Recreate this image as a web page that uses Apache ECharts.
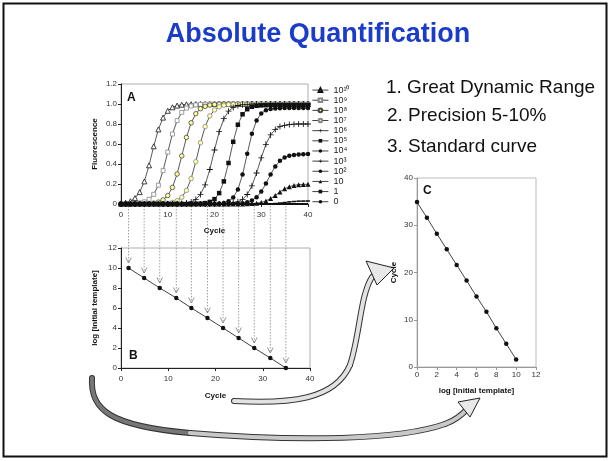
<!DOCTYPE html>
<html><head><meta charset="utf-8">
<script src="https://cdn.jsdelivr.net/npm/echarts@6/dist/echarts.min.js"></script>
<style>html,body{margin:0;padding:0;background:#fff}#c{width:610px;height:461px}</style>
</head><body><div id="c"></div>
<script>
// ---------- data ----------
const cycles = [0,1,2,3,4,5,6,7,8,9,10,11,12,13,14,15,16,17,18,19,20,21,22,23,24,25,26,27,28,29,30,31,32,33,34,35,36,37,38,39,40];
const seriesNames = ['10\u00b9\u2070','10\u2079','10\u2078','10\u2077','10\u2076','10\u2075','10\u2074','10\u00b3','10\u00b2','10','1','0'];
const fl1e10 = [0.006,0.013,0.028,0.059,0.119,0.226,0.387,0.577,0.746,0.864,
  0.932,0.967,0.984,0.993,0.997,0.998,0.999,1,1,1,
  1,1,1,1,1,1,1,1,1,1,
  1,1,1,1,1,1,1,1,1,1,
  1];
const fl1e9 = [0.001,0.001,0.002,0.005,0.011,0.022,0.047,0.097,0.188,0.334,
  0.519,0.700,0.834,0.916,0.959,0.980,0.991,0.996,0.998,1,
  1,1,1,1,1,1,1,1,1,1,
  1,1,1,1,1,1,1,1,1,1,
  1];
const fl1e8 = [0,0,0,0,0.001,0.002,0.004,0.009,0.019,0.041,
  0.085,0.166,0.300,0.481,0.666,0.812,0.903,0.953,0.977,0.989,
  0.995,0.998,1,1,1,1,1,1,1,1,
  1,1,1,1,1,1,1,1,1,1,
  1];
const fl1e7 = [0,0,0,0,0,0,0,0.001,0.002,0.003,
  0.007,0.016,0.033,0.068,0.136,0.254,0.423,0.613,0.774,0.881,
  0.941,0.972,0.987,0.994,0.997,1,1,1,1,1,
  1,1,1,1,1,1,1,1,1,1,
  1];
const fl1e6 = [0,0,0,0,0,0,0,0,0,0,
  0,0.001,0.002,0.004,0.010,0.021,0.046,0.096,0.192,0.345,
  0.540,0.723,0.853,0.928,0.966,0.985,0.993,0.997,1,1,
  1,1,1,1,1,1,1,1,1,1,
  1];
const fl1e5 = [0,0,0,0,0,0,0,0,0,0,
  0,0,0,0,0,0,0.002,0.004,0.009,0.021,
  0.049,0.109,0.226,0.410,0.622,0.793,0.897,0.948,0.972,0.982,
  0.986,0.988,0.99,0.99,0.99,0.99,0.99,0.99,0.99,0.99,
  0.99];
const fl1e4 = [0,0,0,0,0,0,0,0,0,0,
  0,0,0,0,0,0,0,0,0,0,
  0.002,0.005,0.011,0.027,0.064,0.145,0.294,0.502,0.702,0.836,
  0.906,0.938,0.950,0.956,0.958,0.96,0.96,0.96,0.96,0.96,
  0.96];
const fl1e3 = [0,0,0,0,0,0,0,0,0,0,
  0,0,0,0,0,0,0,0,0,0,
  0,0,0.002,0.005,0.010,0.022,0.047,0.095,0.181,0.310,
  0.462,0.597,0.691,0.746,0.774,0.787,0.794,0.798,0.80,0.80,
  0.80];
const fl1e2 = [0,0,0,0,0,0,0,0,0,0,
  0,0,0,0,0,0,0,0,0,0,
  0,0,0,0,0.002,0.004,0.008,0.017,0.035,0.068,
  0.124,0.204,0.296,0.376,0.432,0.465,0.482,0.491,0.496,0.498,
  0.499];
const fl10 = [0,0,0,0,0,0,0,0,0,0,
  0,0,0,0,0,0,0,0,0,0,
  0,0,0,0,0,0,0.001,0.002,0.004,0.008,
  0.016,0.031,0.054,0.086,0.121,0.152,0.173,0.186,0.193,0.196,
  0.198];
const fl1 = [0,0,0,0,0,0,0,0,0,0,
  0,0,0,0,0,0,0,0,0,0,
  0,0,0,0,0,0,0,0,0,0,
  0.001,0.001,0.002,0.005,0.009,0.015,0.021,0.025,0.028,0.029,
  0.030];
const fl0 = [0,0,0,0,0,0,0,0,0,0,
  0,0,0,0,0,0,0,0,0,0,
  0,0,0,0,0,0,0,0,0,0,
  0,0,0,0,0,0,0,0,0,0,
  0];
// standard curve: log[initial template] and threshold cycle
const logTemplate = [10,9,8,7,6,5,4,3,2,1,0];
const thresholdCycle = [1.6,4.9,8.2,11.7,14.9,18.3,21.6,24.9,28.2,31.6,34.9];
// tick labels
const fluorTicks = ['0','0.2','0.4','0.6','0.8','1.0','1.2'];

// ---------- styles ----------
const plus = 'path://M4.3,0H5.7V4.3H10V5.7H5.7V10H4.3V5.7H0V4.3H4.3Z';
const styles = [
  {symbol:'triangle', size:5, fill:'#fff', border:'#111'},
  {symbol:'rect', size:4, fill:'#fff', border:'#888'},
  {symbol:'circle', size:4.5, fill:'#ffff99', border:'#444'},
  {symbol:'circle', size:4.5, fill:'#ffffaa', border:'#888'},
  {symbol:plus, size:6, fill:'#111', border:null},
  {symbol:'rect', size:4.5, fill:'#111', border:null},
  {symbol:'circle', size:4.5, fill:'#111', border:null},
  {symbol:plus, size:6, fill:'#111', border:null},
  {symbol:'circle', size:4.5, fill:'#111', border:null},
  {symbol:'triangle', size:5, fill:'#111', border:null},
  {symbol:'rect', size:[4,1.5], fill:'#111', border:null},
  {symbol:'none', size:0, fill:'#111', border:null, width:2}
];
const values = [fl1e10, fl1e9, fl1e8, fl1e7, fl1e6, fl1e5, fl1e4, fl1e3, fl1e2, fl10, fl1, fl0];

const FONT = 'Liberation Sans, Arial, sans-serif';
const lbl = {fontSize:8, color:'#333', fontFamily:FONT};
const nameStyle = {fontSize:8, fontWeight:'bold', color:'#111', fontFamily:FONT};

const seriesA = values.map((arr, i) => {
  const st = styles[i];
  return {
    name: seriesNames[i], type:'line', xAxisIndex:0, yAxisIndex:0,
    data: cycles.map((c, k) => [c, arr[k]]),
    symbol: st.symbol, symbolSize: st.size,
    lineStyle:{color:'#111', width: st.width || 0.7},
    itemStyle:{color: st.fill, borderColor: st.border || st.fill, borderWidth: st.border ? 0.8 : 0},
    emphasis:{disabled:true}, z: 3
  };
});

const chart = echarts.init(document.getElementById('c'), null, {renderer:'canvas'});

function axisCommon(lineColor, margin){
  return {
    axisLine:{show:true, onZero:false, lineStyle:{color:lineColor, width:1}},
    axisTick:{show:true, length:3, lineStyle:{color:lineColor}},
    splitLine:{show:false},
    axisLabel:Object.assign({margin:margin}, lbl),
    nameTextStyle: nameStyle, nameLocation:'middle'
  };
}

function bez(p, color, w){
  return {type:'bezierCurve', shape:{x1:p[0],y1:p[1],cpx1:p[2],cpy1:p[3],cpx2:p[4],cpy2:p[5],x2:p[6],y2:p[7]},
    style:{fill:'none', stroke:color, lineWidth:w, lineCap:'round'}};
}
const arrowUp = [[234,401,290,404,335,400,350,365],[350,365,360,335,360,296,372,277]];
const arrowLow = [[92,378,90,410,110,426,190,433],[190,433,300,442,400,440,445,424],[445,424,456,420,463,414,468,408]];
const arrowGraphics = [];
arrowUp.forEach(s => arrowGraphics.push(bez(s, '#333', 6)));
arrowUp.forEach(s => arrowGraphics.push(bez(s, '#e2e2e2', 4)));
arrowLow.forEach(s => arrowGraphics.push(bez(s, '#333', 6)));
arrowLow.forEach((s, i) => arrowGraphics.push(bez(s, i === 0 ? '#777' : '#c8c8c8', 4)));
arrowGraphics.push({type:'polygon', shape:{points:[[366,261],[394,268],[377,285]]}, style:{fill:'#e8e8e8', stroke:'#222', lineWidth:1}});
arrowGraphics.push({type:'polygon', shape:{points:[[458,402],[480,398],[470,417]]}, style:{fill:'#e8e8e8', stroke:'#222', lineWidth:1}});

const option = {
  animation:false,
  backgroundColor:'#fff',
  textStyle:{fontFamily:FONT},
  grid:[
    {left:121, top:84, width:187, height:120, show:true, borderColor:'#999', borderWidth:0.8, outerBoundsMode:'none'},
    {left:121, top:248, width:189, height:120, show:true, borderColor:'#999', borderWidth:0.8, outerBoundsMode:'none'},
    {left:417, top:178, width:119, height:189, show:true, borderColor:'#aaa', borderWidth:0.8, outerBoundsMode:'none'}
  ],
  xAxis:[
    Object.assign(axisCommon('#222', 7), {gridIndex:0, type:'value', min:0, max:40, interval:10, name:'Cycle', nameGap:23}),
    Object.assign(axisCommon('#222', 7), {gridIndex:1, type:'value', min:0, max:40, interval:10, name:'Cycle', nameGap:24}),
    Object.assign(axisCommon('#999', 4), {gridIndex:2, type:'value', min:0, max:12, interval:2, name:'log [initial template]', nameGap:20})
  ],
  yAxis:[
    Object.assign(axisCommon('#222', 4), {gridIndex:0, type:'value', min:0, max:1.2, interval:0.2, name:'Fluorescence', nameGap:22,
      axisLabel:Object.assign({margin:4, formatter:(v)=>fluorTicks[Math.round(v/0.2)]}, lbl)}),
    Object.assign(axisCommon('#222', 4), {gridIndex:1, type:'value', min:0, max:12, interval:2, name:'log [initial template]', nameGap:22}),
    Object.assign(axisCommon('#999', 4), {gridIndex:2, type:'value', min:0, max:40, interval:10, name:'Cycle', nameGap:19})
  ],
  legend:{
    orient:'vertical', left:312, top:85, padding:0, itemWidth:16, itemHeight:4.5, itemGap:0,
    selectedMode:false, data:seriesNames,
    lineStyle:{width:0.8, color:'#111'},
    textStyle:{fontSize:9, color:'#222', lineHeight:10.15, fontFamily:FONT}
  },
  series: seriesA.concat([
    {
      type:'custom', xAxisIndex:1, yAxisIndex:1, clip:false, z:1, silent:true,
      data: thresholdCycle.map((c, i) => [c, logTemplate[i]]),
      renderItem:(params, api) => {
        const x = api.value(0), y = api.value(1);
        const p = api.coord([x, y]);
        const top = api.coord([x, 12])[1] - 42;
        const tip = p[1] - 5;
        return {type:'group', children:[
          {type:'line', shape:{x1:p[0], y1:top, x2:p[0], y2:tip}, style:{stroke:'#888', lineWidth:0.8, lineDash:[1.5,1.5]}},
          {type:'polyline', shape:{points:[[p[0]-2.8, tip-5.5],[p[0], tip],[p[0]+2.8, tip-5.5]]}, style:{stroke:'#777', lineWidth:0.8, fill:'none'}}
        ]};
      }
    },
    {
      type:'line', xAxisIndex:1, yAxisIndex:1, z:3,
      data: thresholdCycle.map((c, i) => [c, logTemplate[i]]),
      symbol:'circle', symbolSize:4.5,
      lineStyle:{color:'#111', width:0.8}, itemStyle:{color:'#111'}
    },
    {
      type:'line', xAxisIndex:2, yAxisIndex:2, z:3,
      data: logTemplate.map((l, i) => [l, thresholdCycle[i]]),
      symbol:'circle', symbolSize:4.5,
      lineStyle:{color:'#111', width:0.8}, itemStyle:{color:'#111'}
    }
  ]),
  graphic:[
    {type:'rect', shape:{x:3.5, y:3.5, width:603, height:453}, style:{fill:'none', stroke:'#111', lineWidth:2}, z:-10},
    {type:'text', x:318, y:35, style:{text:'Absolute Quantification', font:'bold 27px '+FONT, fill:'#1a3cc8', textAlign:'center', textVerticalAlign:'middle'}},
    {type:'text', x:386, y:88, style:{text:'1. Great Dynamic Range', font:'19px '+FONT, fill:'#111', textVerticalAlign:'middle'}},
    {type:'text', x:387, y:116, style:{text:'2. Precision 5-10%', font:'19px '+FONT, fill:'#111', textVerticalAlign:'middle'}},
    {type:'text', x:387, y:147, style:{text:'3. Standard curve', font:'19px '+FONT, fill:'#111', textVerticalAlign:'middle'}},
    {type:'text', x:127, y:98, style:{text:'A', font:'bold 12px '+FONT, fill:'#111', textVerticalAlign:'middle'}},
    {type:'text', x:129, y:356, style:{text:'B', font:'bold 12px '+FONT, fill:'#111', textVerticalAlign:'middle'}},
    {type:'text', x:423, y:191, style:{text:'C', font:'bold 12px '+FONT, fill:'#111', textVerticalAlign:'middle'}}
  ].concat(arrowGraphics)
};
chart.setOption(option);
</script>
</body></html>
